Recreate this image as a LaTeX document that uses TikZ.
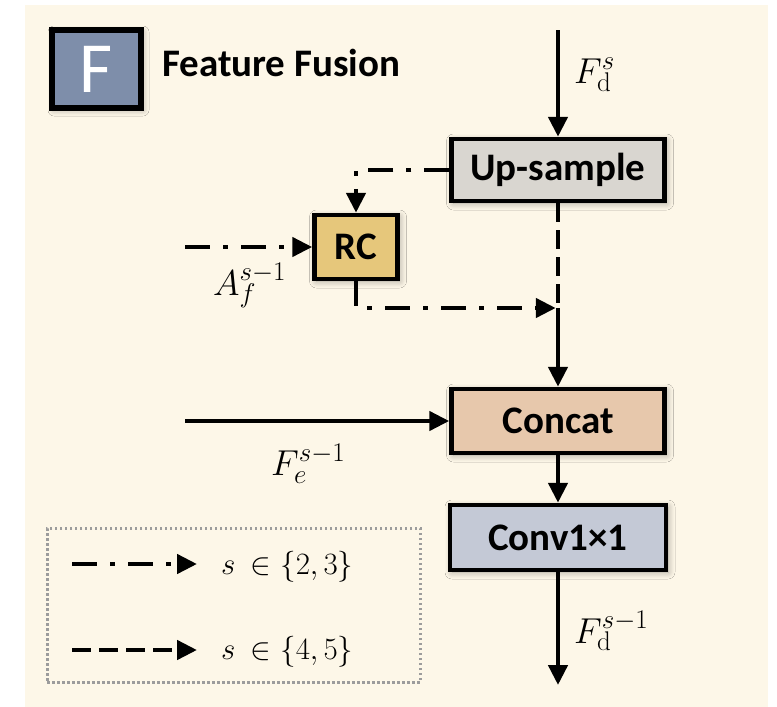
\RequirePackage{fix-cm}
\documentclass[tikz,border=0pt]{standalone}
\usepackage{fontspec}
\newfontfamily\boxfont{Carlito}
\usetikzlibrary{arrows.meta,shadows.blur}
% larger script sizes for the signal labels
\DeclareMathSizes{36}{36}{27}{20}
\DeclareMathSizes{31}{31}{23}{17}

\definecolor{panelbg}{HTML}{FDF7E8}
\definecolor{upfill}{HTML}{D9D6D0}
\definecolor{rcfill}{HTML}{E6C77B}
\definecolor{catfill}{HTML}{E7C8AC}
\definecolor{convfill}{HTML}{C4C9D6}
\definecolor{iconfill}{HTML}{7E8EAA}
\definecolor{legendgray}{HTML}{9C9C9C}

\tikzset{
  block/.style={draw=black, line width=4.5pt, minimum width=213pt, minimum height=62pt,
    inner sep=0pt, font=\boxfont\bfseries\fontsize{39}{41}\selectfont,
    blur shadow={shadow xshift=2pt, shadow yshift=-2pt, shadow blur radius=7pt,
      shadow blur steps=8, shadow opacity=35}},
  flow/.style={line width=4.5pt},
  tip/.style={-{Triangle[length=20pt,width=19pt]}},
  dashdotline/.style={flow, dash pattern=on 25pt off 13pt on 5pt off 13pt},
  dashline/.style={flow, dash pattern=on 19pt off 8pt},
  lab/.style={font=\fontsize{36}{38}\selectfont, inner sep=0pt},
  leglab/.style={font=\fontsize{31}{34}\selectfont, inner sep=0pt},
}

\begin{document}
\begin{tikzpicture}[x=1pt,y=-1pt]
  % page and panel background
  \useasboundingbox (0,0) rectangle (777,707);
  \fill[white] (0,0) rectangle (777,707);
  \fill[panelbg] (25,5) rectangle (768,707);

  % title badge
  \node[draw=black, line width=5.5pt, fill=iconfill, minimum width=89pt, minimum height=78pt,
        inner sep=0pt, text=white, font=\boxfont\fontsize{72}{72}\selectfont,
        blur shadow={shadow xshift=2pt, shadow yshift=-2pt, shadow blur radius=6pt, shadow opacity=35}]
        (icon) at (96.5,69) {F};
  \node[anchor=base west, inner sep=0pt, font=\boxfont\bfseries\fontsize{39}{41}\selectfont]
        (title) at (162,76) {Feature Fusion};

  % processing blocks
  \node[block, fill=upfill] (upsample) at (558,170) {Up-sample};
  \node[block, fill=rcfill, minimum width=83pt, minimum height=64pt] (rc) at (356,247) {RC};
  \node[block, fill=catfill, minimum height=64pt] (concat) at (558,421) {Concat};
  \node[block, fill=convfill, minimum width=216pt, minimum height=65pt] (conv) at (558,537.5) {Conv1×1};

  % free ends of the connectors
  \coordinate (fdin) at (558,30);
  \coordinate (fdout) at (558,685);
  \coordinate (ain) at (185,247);
  \coordinate (fein) at (185,421);
  \coordinate (junc) at (558,308);

  % main decoder path
  \draw[flow, tip] (fdin) -- (upsample.north);
  \draw[dashline] (upsample.south) -- (junc);
  \draw[flow, tip] (junc) -- (concat.north);
  \draw[flow, tip] (concat.south) -- (conv.north);
  \draw[flow, tip] (conv.south) -- (fdout);

  % attention branch through RC
  \draw[dashdotline, tip] (upsample.west) -| (rc.north);
  \draw[dashdotline, tip] (ain) -- (rc.west);
  \draw[dashdotline, tip, shorten >=2.25pt] (rc.south) |- (junc);

  % encoder skip connection
  \draw[flow, tip] (fein) -- (concat.west);

  % signal labels
  \node[lab, anchor=base west] (lfd) at (574,83) {$F_{\mathrm{d}}^{s}$};
  \node[lab, anchor=base west] (laf) at (213,295) {$A_{f}^{s-1}$};
  \node[lab, anchor=base west] (lfe) at (271,475) {$F_{e}^{s-1}$};
  \node[lab, anchor=base west] (lfo) at (574,643) {$F_{\mathrm{d}}^{s-1}$};

  % legend
  \node[draw=legendgray, line width=3pt, dash pattern=on 2.5pt off 2.5pt,
        minimum width=373pt, minimum height=154pt, inner sep=0pt] (legend) at (233.5,605) {};
  \coordinate (la1) at (72,564);
  \coordinate (lb1) at (197,564);
  \coordinate (la2) at (72,650);
  \coordinate (lb2) at (197,650);
  \draw[dashdotline, tip] (la1) -- (lb1);
  \draw[dashline, tip] (la2) -- (lb2);
  \node[leglab, anchor=base west] (lt1) at (221,574) {$s\mkern4mu\in\{2{,}\mkern3mu3\}$};
  \node[leglab, anchor=base west] (lt2) at (221,659) {$s\mkern4mu\in\{4{,}\mkern3mu5\}$};
\end{tikzpicture}
\end{document}
